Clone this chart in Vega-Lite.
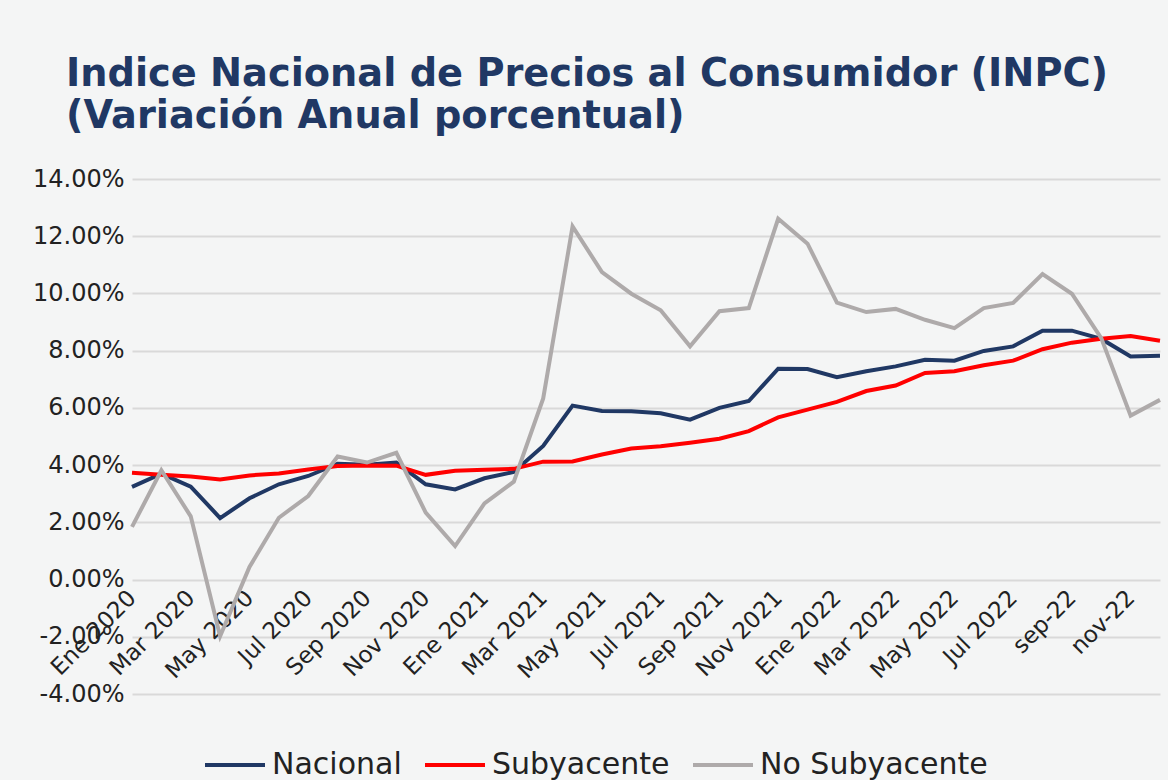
{
  "$schema": "https://vega.github.io/schema/vega-lite/v6.json",
  "width": 1028,
  "height": 515,
  "autosize": "none",
  "padding": {"left": 132, "top": 179, "right": 8, "bottom": 86},
  "background": "#f4f5f5",
  "config": {"view": {"stroke": null}, "font": "DejaVu Sans"},
  "title": {
    "text": ["Indice Nacional de Precios al Consumidor (INPC)", "(Variación Anual porcentual)"],
    "anchor": "start",
    "frame": "group",
    "dx": -66,
    "fontSize": 38.3,
    "fontWeight": "bold",
    "font": "DejaVu Sans",
    "color": "#203864",
    "lineHeight": 42,
    "offset": -7,
    "baseline": "bottom"
  },
  "data": {
    "values": [
      {"mes": "Ene 2020", "Nacional": 3.24, "Subyacente": 3.73, "No Subyacente": 1.84},
      {"mes": "Feb 2020", "Nacional": 3.70, "Subyacente": 3.66, "No Subyacente": 3.82},
      {"mes": "Mar 2020", "Nacional": 3.25, "Subyacente": 3.60, "No Subyacente": 2.21},
      {"mes": "Abr 2020", "Nacional": 2.15, "Subyacente": 3.50, "No Subyacente": -1.98},
      {"mes": "May 2020", "Nacional": 2.84, "Subyacente": 3.64, "No Subyacente": 0.44},
      {"mes": "Jun 2020", "Nacional": 3.33, "Subyacente": 3.71, "No Subyacente": 2.16},
      {"mes": "Jul 2020", "Nacional": 3.62, "Subyacente": 3.85, "No Subyacente": 2.92},
      {"mes": "Ago 2020", "Nacional": 4.05, "Subyacente": 3.97, "No Subyacente": 4.30},
      {"mes": "Sep 2020", "Nacional": 4.01, "Subyacente": 3.99, "No Subyacente": 4.09},
      {"mes": "Oct 2020", "Nacional": 4.09, "Subyacente": 3.98, "No Subyacente": 4.43},
      {"mes": "Nov 2020", "Nacional": 3.33, "Subyacente": 3.66, "No Subyacente": 2.34},
      {"mes": "Dic 2020", "Nacional": 3.15, "Subyacente": 3.80, "No Subyacente": 1.17},
      {"mes": "Ene 2021", "Nacional": 3.54, "Subyacente": 3.84, "No Subyacente": 2.66},
      {"mes": "Feb 2021", "Nacional": 3.76, "Subyacente": 3.87, "No Subyacente": 3.42},
      {"mes": "Mar 2021", "Nacional": 4.67, "Subyacente": 4.12, "No Subyacente": 6.33},
      {"mes": "Abr 2021", "Nacional": 6.08, "Subyacente": 4.13, "No Subyacente": 12.34},
      {"mes": "May 2021", "Nacional": 5.89, "Subyacente": 4.37, "No Subyacente": 10.75},
      {"mes": "Jun 2021", "Nacional": 5.88, "Subyacente": 4.58, "No Subyacente": 9.99},
      {"mes": "Jul 2021", "Nacional": 5.81, "Subyacente": 4.66, "No Subyacente": 9.41},
      {"mes": "Ago 2021", "Nacional": 5.59, "Subyacente": 4.78, "No Subyacente": 8.15},
      {"mes": "Sep 2021", "Nacional": 6.00, "Subyacente": 4.92, "No Subyacente": 9.38},
      {"mes": "Oct 2021", "Nacional": 6.24, "Subyacente": 5.19, "No Subyacente": 9.49},
      {"mes": "Nov 2021", "Nacional": 7.37, "Subyacente": 5.67, "No Subyacente": 12.61},
      {"mes": "Dic 2021", "Nacional": 7.36, "Subyacente": 5.94, "No Subyacente": 11.74},
      {"mes": "Ene 2022", "Nacional": 7.07, "Subyacente": 6.21, "No Subyacente": 9.68},
      {"mes": "Feb 2022", "Nacional": 7.28, "Subyacente": 6.59, "No Subyacente": 9.35},
      {"mes": "Mar 2022", "Nacional": 7.45, "Subyacente": 6.78, "No Subyacente": 9.46},
      {"mes": "Abr 2022", "Nacional": 7.68, "Subyacente": 7.22, "No Subyacente": 9.08},
      {"mes": "May 2022", "Nacional": 7.65, "Subyacente": 7.28, "No Subyacente": 8.79},
      {"mes": "Jun 2022", "Nacional": 7.99, "Subyacente": 7.49, "No Subyacente": 9.49},
      {"mes": "Jul 2022", "Nacional": 8.15, "Subyacente": 7.65, "No Subyacente": 9.67},
      {"mes": "ago-22", "Nacional": 8.70, "Subyacente": 8.05, "No Subyacente": 10.68},
      {"mes": "sep-22", "Nacional": 8.70, "Subyacente": 8.28, "No Subyacente": 9.99},
      {"mes": "oct-22", "Nacional": 8.41, "Subyacente": 8.42, "No Subyacente": 8.44},
      {"mes": "nov-22", "Nacional": 7.80, "Subyacente": 8.51, "No Subyacente": 5.73},
      {"mes": "dic-22", "Nacional": 7.82, "Subyacente": 8.35, "No Subyacente": 6.28}
    ]
  },
  "transform": [{"fold": ["Nacional", "Subyacente", "No Subyacente"], "as": ["serie", "valor"]}],
  "mark": {"type": "line", "strokeWidth": 4},
  "encoding": {
    "x": {
      "field": "mes",
      "type": "ordinal",
      "sort": null,
      "scale": {"type": "point", "padding": 0},
      "axis": {
        "values": ["Ene 2020", "Mar 2020", "May 2020", "Jul 2020", "Sep 2020", "Nov 2020", "Ene 2021", "Mar 2021", "May 2021", "Jul 2021", "Sep 2021", "Nov 2021", "Ene 2022", "Mar 2022", "May 2022", "Jul 2022", "sep-22", "nov-22"],
        "title": null,
        "domain": false,
        "ticks": false,
        "tickSize": 0,
        "grid": false,
        "labelAngle": -45,
        "labelAlign": "right",
        "labelBaseline": "middle",
        "labelFontSize": 23,
        "labelColor": "#222222",
        "labelPadding": 14,
        "labelOverlap": false,
        "labelLimit": 0,
        "offset": -114
      }
    },
    "y": {
      "field": "valor",
      "type": "quantitative",
      "scale": {"domain": [-4, 14], "nice": false, "zero": false},
      "axis": {
        "values": [-4, -2, 0, 2, 4, 6, 8, 10, 12, 14],
        "title": null,
        "domain": false,
        "ticks": false,
        "tickSize": 0,
        "grid": true,
        "gridColor": "#d9d9d9",
        "gridWidth": 2,
        "labelFontSize": 24,
        "labelColor": "#222222",
        "labelPadding": 8,
        "labelExpr": "(datum.value < 0 ? '-' : '') + format(abs(datum.value), '.2f') + '%'"
      }
    },
    "color": {
      "field": "serie",
      "type": "nominal",
      "sort": null,
      "scale": {"domain": ["Nacional", "Subyacente", "No Subyacente"], "range": ["#203864", "#ff0000", "#aeaaaa"]},
      "legend": {
        "orient": "none",
        "legendX": 71,
        "legendY": 554,
        "direction": "horizontal",
        "title": null,
        "symbolType": "stroke",
        "symbolSize": 3600,
        "symbolStrokeWidth": 4,
        "labelFontSize": 30,
        "labelColor": "#222222",
        "labelOffset": 5,
        "columnPadding": 15,
        "padding": 0,
        "labelLimit": 0
      }
    }
  }
}
